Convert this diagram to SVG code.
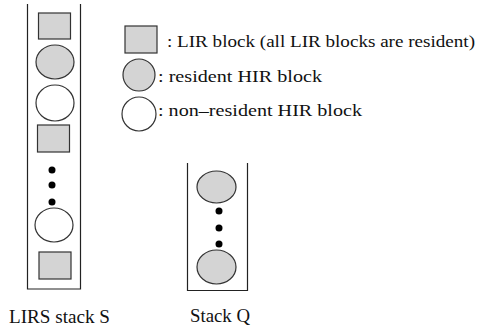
<svg xmlns="http://www.w3.org/2000/svg" width="478" height="328" viewBox="0 0 478 328">
<rect width="478" height="328" fill="#fff"/>
<g id="stackS" stroke="#333" stroke-width="1.2">
<path fill="none" stroke="#222" d="M27.5,4 V289 H80.5 V4"/>
<rect fill="#d4d4d4" x="38.5" y="13" width="32" height="26"/>
<ellipse fill="#d4d4d4" cx="55" cy="62" rx="19" ry="17"/>
<ellipse fill="#fff" cx="55" cy="103" rx="19" ry="18"/>
<rect fill="#d4d4d4" x="37.5" y="125" width="32" height="27"/>
<g fill="#000" stroke="none">
<circle cx="52" cy="170" r="3.5"/>
<circle cx="52" cy="185" r="3.5"/>
<circle cx="52" cy="202" r="3.5"/>
</g>
<ellipse fill="#fff" cx="54" cy="225" rx="19" ry="17"/>
<rect fill="#d4d4d4" x="39" y="252" width="32" height="27"/>
<text stroke="none" font-family="Liberation Serif" font-size="18" fill="#111" x="9" y="323" textLength="101" lengthAdjust="spacingAndGlyphs">LIRS stack S</text>
</g>
<g id="stackQ" stroke="#333" stroke-width="1.2">
<path fill="none" stroke="#222" d="M187.5,163 V290.5 H247.5 V163"/>
<ellipse fill="#d4d4d4" cx="216.5" cy="187" rx="19.5" ry="16"/>
<g fill="#000" stroke="none">
<circle cx="219" cy="211" r="3.5"/>
<circle cx="219" cy="228" r="3.5"/>
<circle cx="219" cy="244" r="3.5"/>
</g>
<ellipse fill="#d4d4d4" cx="216.5" cy="267" rx="19.5" ry="17"/>
<text stroke="none" font-family="Liberation Serif" font-size="18" fill="#111" x="190" y="322" textLength="60" lengthAdjust="spacingAndGlyphs">Stack Q</text>
</g>
<g id="legend" stroke="#333" stroke-width="1.2">
<rect fill="#d4d4d4" x="125" y="26" width="32" height="27"/>
<ellipse fill="#d4d4d4" cx="139" cy="75" rx="16" ry="16"/>
<ellipse fill="#fff" cx="139" cy="114" rx="17" ry="17"/>
<g stroke="none" font-family="Liberation Serif" font-size="16.5" fill="#111">
<text x="167" y="47" textLength="308" lengthAdjust="spacingAndGlyphs">: LIR block (all LIR blocks are resident)</text>
<text x="158" y="82" textLength="164" lengthAdjust="spacingAndGlyphs">: resident HIR block</text>
<text x="158" y="116" textLength="204" lengthAdjust="spacingAndGlyphs">: non–resident HIR block</text>
</g>
</g>
</svg>
